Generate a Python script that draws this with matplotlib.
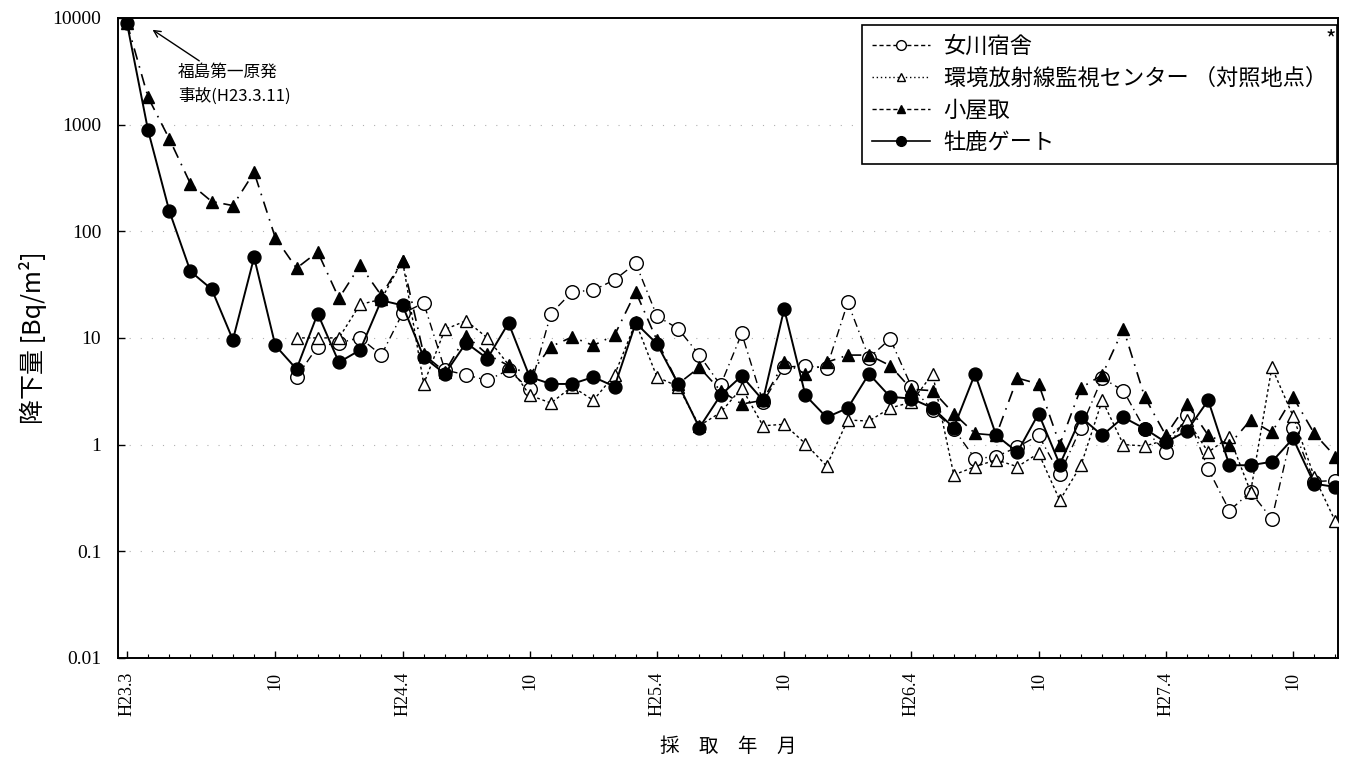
import numpy as np
import matplotlib
matplotlib.use("Agg")
import matplotlib.pyplot as plt
from matplotlib.lines import Line2D
from matplotlib.ticker import FixedLocator, NullFormatter

plt.rcParams['font.family'] = ['Noto Sans CJK JP', 'DejaVu Sans']

nan = np.nan
# months since H23.3 (March 2011)
months = np.arange(58)

gate = [9000, 880, 155, 42, 28.6, 9.6, 57, 8.5, 5.1, 16.9,
        5.9, 7.7, 22.5, 20.2, 6.6, 4.6, 9.0, 6.4, 13.8, 4.3,
        3.7, 3.7, 4.3, 3.5, 13.8, 8.8, 3.7, 1.44, 2.9, 4.4,
        2.6, 18.7, 2.9, 1.8, 2.2, 4.6, 2.8, 2.7, 2.2, 1.44,
        4.6, 1.22, 0.85, 1.95, 0.65, 1.8, 1.22, 1.8, 1.41, 1.05,
        1.35, 2.6, 0.64, 0.64, 0.69, 1.14, 0.43, 0.40]

koyadori = [9000, 1800, 735, 278, 190, 174, 357, 87, 45, 64,
            23.5, 48, 25, 53, 7.0, 4.8, 10.5, 7.0, 5.5, 4.5,
            8.3, 10.2, 8.5, 10.6, 27, 9.5, 3.7, 5.3, 3.2, 2.4,
            2.6, 5.9, 4.6, 5.9, 6.9, 6.9, 5.5, 3.3, 3.2, 1.95,
            1.27, 1.22, 4.2, 3.7, 1.0, 3.4, 4.5, 12.2, 2.8, 1.22,
            2.4, 1.22, 1.0, 1.7, 1.3, 2.8, 1.27, 0.77]

onagawa = [nan, nan, nan, nan, nan, nan, nan, nan, 4.3, 8.3,
           9.0, 10, 6.9, 17, 21.2, 5.0, 4.5, 4.0, 5.0, 3.3,
           16.9, 27, 28, 35, 50, 16, 12.2, 6.9, 3.6, 11,
           2.5, 5.3, 5.5, 5.2, 21.5, 6.5, 9.8, 3.5, 2.1, 1.4,
           0.74, 0.77, 0.95, 1.22, 0.53, 1.44, 4.2, 3.2, 1.4, 0.85,
           1.9, 0.59, 0.24, 0.36, 0.20, 1.44, 0.45, 0.46]

center = [nan, nan, nan, nan, nan, nan, nan, nan, 10, 10,
          10, 20.6, 23, 53, 3.7, 12, 14.5, 10, 5.6, 2.9,
          2.45, 3.5, 2.6, 4.5, 14, 4.3, 3.5, 1.5, 2.0, 3.4,
          1.5, 1.55, 1.02, 0.63, 1.7, 1.66, 2.2, 2.5, 4.6, 0.52,
          0.62, 0.72, 0.62, 0.83, 0.30, 0.64, 2.6, 1.0, 0.97, 1.1,
          1.7, 0.85, 1.18, 0.36, 5.3, 1.85, 0.5, 0.19]

labels = ['女川宿舎', '環境放射線監視センター （対照地点）', '小屋取', '牡鹿ゲート']

xtick_pos = [0, 7, 13, 19, 25, 31, 37, 43, 49, 55]
xtick_labels = ['H23.3', '10', 'H24.4', '10', 'H25.4', '10', 'H26.4', '10', 'H27.4', '10']
ytick_pos = [0.01, 0.1, 1, 10, 100, 1000, 10000]
ytick_labels = ['0.01', '0.1', '1', '10', '100', '1000', '10000']

fig = plt.figure(figsize=(13.53, 7.65), dpi=100)
ax = fig.add_axes([0.0872, 0.140, 0.9017, 0.8366])
ax.set_yscale('log')
ax.set_ylim(0.01, 10000)
ax.set_xlim(-0.42, 57.12)

# faint decade grid
for yv in ytick_pos[1:-1]:
    ax.axhline(yv, color='#b0b0b0', lw=0.8, ls=(0, (1, 9)), zorder=0)

ms = 9.3
ax.plot(months, onagawa, color='black', lw=1.0, ls=(0, (6, 3, 1, 3)),
        marker='o', mfc='white', mec='black', mew=1.0, ms=ms + 0.5, zorder=3)
ax.plot(months, center, color='black', lw=1.0, ls=(0, (2, 2)),
        marker='^', mfc='white', mec='black', mew=1.0, ms=ms, zorder=3)
ax.plot(months, koyadori, color='black', lw=1.2, ls=(0, (7, 4, 1, 4)),
        marker='^', mfc='black', mec='black', ms=ms, zorder=4)
ax.plot(months, gate, color='black', lw=1.4, ls='-',
        marker='o', mfc='black', mec='black', ms=ms, zorder=5)

ax.xaxis.set_major_locator(FixedLocator(xtick_pos))
ax.set_xticklabels(xtick_labels, rotation=90, fontsize=13, family='Liberation Serif')
ax.xaxis.set_minor_locator(FixedLocator(months))
ax.xaxis.set_minor_formatter(NullFormatter())
ax.set_yticks(ytick_pos)
ax.set_yticklabels(ytick_labels, fontsize=14, family='Liberation Serif')
ax.yaxis.set_minor_formatter(NullFormatter())
ax.tick_params(axis='y', which='minor', length=0)
ax.tick_params(axis='both', which='major', direction='in', length=5, width=1)
ax.tick_params(axis='x', which='minor', direction='in', length=3, width=0.8)
ax.tick_params(axis='x', pad=10)
ax.tick_params(axis='y', pad=12)
for s in ax.spines.values():
    s.set_linewidth(1.4)

ax.set_ylabel('降下量 [Bq/m²]', fontsize=18, labelpad=4)
ax.set_xlabel('採　取　年　月', fontsize=14, labelpad=14)

ax.annotate('福島第一原発\n事故(H23.3.11)', xy=(1.1, 8000), xytext=(2.4, 2400),
            fontsize=12, ha='left', va='center', linespacing=1.5,
            arrowprops=dict(arrowstyle='->', color='black', lw=1.0, shrinkA=0, shrinkB=2))

handles = [
    Line2D([], [], color='black', lw=1.0, ls=(0, (3, 2)), marker='o', mfc='white', mec='black', ms=7),
    Line2D([], [], color='black', lw=1.0, ls=(0, (1, 2)), marker='^', mfc='white', mec='black', ms=6),
    Line2D([], [], color='black', lw=1.0, ls=(0, (3, 2)), marker='^', mfc='black', mec='black', ms=6),
    Line2D([], [], color='black', lw=1.2, ls='-', marker='o', mfc='black', mec='black', ms=7),
]
leg = ax.legend(handles, labels, loc='upper right', bbox_to_anchor=(0.999, 0.989),
                fontsize=16, frameon=True, fancybox=False, framealpha=1,
                edgecolor='black', handlelength=2.6, labelspacing=0.4,
                borderpad=0.45, handletextpad=0.6, borderaxespad=0.0)
leg.get_frame().set_linewidth(1.2)
fig.text(1331 / 1353, 1 - 40 / 765, '*', fontsize=16, ha='center', va='center')

fig.savefig('out.png', dpi=100)
